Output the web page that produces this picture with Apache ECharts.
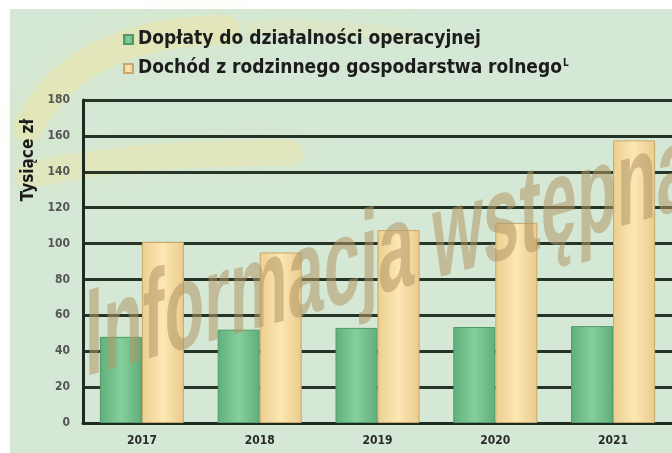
<!DOCTYPE html>
<html>
<head>
<meta charset="utf-8">
<script src="https://cdn.jsdelivr.net/npm/echarts@6/dist/echarts.min.js"></script>
<style>
  html, body { margin: 0; padding: 0; background: #ffffff; }
  #chart { width: 672px; height: 453px; }
</style>
</head>
<body>
<div id="chart"></div>
<script>
// data
const years = ['2017', '2018', '2019', '2020', '2021'];
const doplaty = [48, 52, 53, 53.5, 54];
const dochod = [101, 95, 107.5, 111.5, 157.5];
const seriesNames = ['Dopłaty do działalności operacyjnej', 'Dochód z rodzinnego gospodarstwa rolnego'];

const FONT = "'DejaVu Sans Condensed', 'Liberation Sans', Arial, sans-serif";

const chart = echarts.init(document.getElementById('chart'));

// bar fills: slightly darker edges, lighter centre
const greenFill = new echarts.graphic.LinearGradient(0, 0, 1, 0, [
  { offset: 0, color: '#5fb07c' },
  { offset: 0.5, color: '#86cf9c' },
  { offset: 1, color: '#5fae7a' }
]);
const yellowFill = new echarts.graphic.LinearGradient(0, 0, 1, 0, [
  { offset: 0, color: '#ecce90' },
  { offset: 0.5, color: '#fde7b3' },
  { offset: 1, color: '#eacb8d' }
]);

// soft yellow stroke for the background swooshes
const swooshStyle = (alpha, width) => ({
  stroke: 'rgba(240,228,160,' + alpha + ')', lineWidth: width, lineCap: 'round', fill: null,
  shadowBlur: 30, shadowColor: 'rgba(240,228,160,' + alpha + ')'
});

const option = {
  backgroundColor: '#ffffff',
  animation: false,
  grid: { left: 83, top: 100, right: -11, bottom: 30, containLabel: false },
  legend: {
    orient: 'vertical',
    left: 118,
    top: 25,
    itemGap: 9,
    itemWidth: 9,
    itemHeight: 9,
    icon: 'rect',
    data: seriesNames,
    formatter: function (name) {
      return name === seriesNames[1] ? '{t|' + name + '}{s|L}' : '{t|' + name + '}';
    },
    textStyle: {
      rich: {
        t: { fontFamily: FONT, fontWeight: 'bold', fontSize: 19, color: '#1c1c1c', lineHeight: 21 },
        s: { fontFamily: FONT, fontWeight: 'bold', fontSize: 10, color: '#1c1c1c', verticalAlign: 'top', padding: [0, 0, 8, 1] }
      }
    }
  },
  xAxis: {
    type: 'category',
    data: years,
    axisLine: { lineStyle: { color: '#1f2a20', width: 3 } },
    axisTick: { show: false },
    axisLabel: { fontFamily: FONT, fontWeight: 'bold', fontSize: 12, color: '#2a2a2a', margin: 12 }
  },
  yAxis: {
    type: 'value',
    min: 0,
    max: 180,
    interval: 20,
    axisLine: { show: true, lineStyle: { color: '#1f2a20', width: 3 } },
    axisTick: { show: false },
    axisLabel: { fontFamily: FONT, fontWeight: 'bold', fontSize: 12, color: '#555555', margin: 13 },
    splitLine: { lineStyle: { color: '#263326', width: 3 } }
  },
  series: [
    {
      name: seriesNames[0],
      type: 'bar',
      data: doplaty,
      barWidth: 42,
      barGap: '0%',
      color: '#6fbf88',
      itemStyle: { color: greenFill, borderColor: '#4f9a68', borderWidth: 1 }
    },
    {
      name: seriesNames[1],
      type: 'bar',
      data: dochod,
      barWidth: 42,
      color: '#f6dca0',
      itemStyle: { color: yellowFill, borderColor: '#c9a86b', borderWidth: 1 }
    }
  ],
  graphic: [
    // pale green sheet with white margin
    { type: 'rect', z: -10, silent: true, shape: { x: 10, y: 9, width: 662, height: 444 }, style: { fill: '#d4e8d5' } },
    // faint yellow swooshes at top left
    {
      type: 'bezierCurve', z: -9, silent: true,
      shape: { x1: 225, y1: 30, cpx1: 75, cpy1: 32, x2: 28, y2: 128 },
      style: swooshStyle(0.45, 30)
    },
    {
      type: 'bezierCurve', z: -9, silent: true,
      shape: { x1: 250, y1: 28, cpx1: 330, cpy1: 24, x2: 410, y2: 36 },
      style: swooshStyle(0.25, 14)
    },
    {
      type: 'bezierCurve', z: -9, silent: true,
      shape: { x1: 28, y1: 176, cpx1: 120, cpy1: 152, x2: 290, y2: 153 },
      style: swooshStyle(0.4, 26)
    },
    // y axis name
    {
      type: 'text', silent: true,
      x: 29, y: 160, rotation: Math.PI / 2,
      style: {
        text: 'Tysiące zł', fontFamily: FONT, fontWeight: 'bold', fontSize: 17,
        fill: '#1c1c1c', align: 'center', verticalAlign: 'middle'
      }
    },
    // watermark: upright letters on a rising baseline
    {
      type: 'text', silent: true, z: 100,
      x: 85, y: 404, skewY: 0.273, scaleX: 0.525,
      style: {
        text: 'Informacja wstępna', fontFamily: "'Liberation Sans', Arial, sans-serif", fontWeight: 'bold', fontSize: 124,
        fill: 'rgba(176,150,100,0.55)', align: 'left', verticalAlign: 'bottom'
      }
    }
  ]
};

chart.setOption(option);
</script>
</body>
</html>
